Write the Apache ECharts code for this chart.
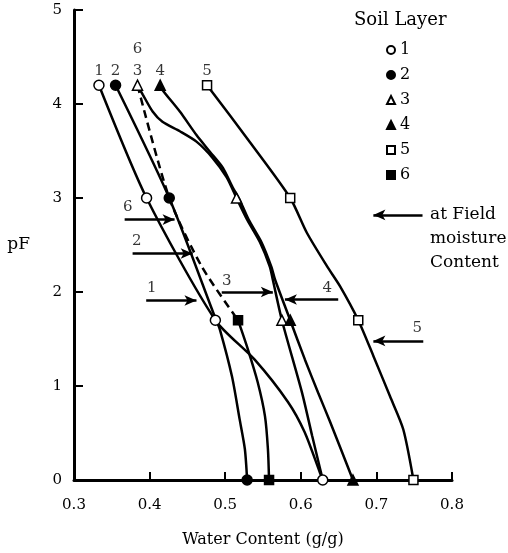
<!DOCTYPE html>
<html><head><meta charset="utf-8">
<script src="https://cdn.jsdelivr.net/npm/echarts@6/dist/echarts.min.js"></script>
<style>html,body{margin:0;padding:0;background:#fff}#c{width:508px;height:553px}</style>
</head><body><div id="c"></div>
<script>
const marks1 = [[0.333,4.2],[0.396,3.0],[0.487,1.7],[0.629,0]];
const marks2 = [[0.355,4.2],[0.426,3.0],[0.529,0]];
const marks3 = [[0.384,4.2],[0.515,3.0],[0.575,1.7]];
const marks4 = [[0.414,4.2],[0.586,1.7],[0.669,0]];
const marks5 = [[0.476,4.2],[0.586,3.0],[0.676,1.7],[0.749,0]];
const marks6 = [[0.517,1.7],[0.558,0]];

// Curve traces
const curve1 = [[0.333,4.2],[0.396,3.0],[0.487,1.7],[0.539,1.28],[0.583,0.83],[0.605,0.51],[0.625,0.085],[0.629,0]];
const curve2 = [[0.355,4.2],[0.426,3.0],[0.488,1.7],[0.493,1.6],[0.509,1.10],[0.519,0.65],[0.526,0.33],[0.529,0]];
const curve3 = [[0.384,4.2],[0.391,4.10],[0.404,3.92],[0.417,3.81],[0.440,3.71],[0.462,3.60],[0.483,3.43],[0.502,3.22],[0.515,3.0],[0.529,2.77],[0.546,2.53],[0.559,2.27],[0.563,2.13],[0.575,1.7],[0.6016,0.93],[0.615,0.47],[0.6255,0.12],[0.629,0]];
const curve4 = [[0.414,4.2],[0.417,4.15],[0.440,3.92],[0.462,3.67],[0.480,3.49],[0.497,3.32],[0.510,3.11],[0.518,3.0],[0.531,2.77],[0.548,2.53],[0.561,2.27],[0.566,2.13],[0.586,1.7],[0.6055,1.28],[0.6228,0.93],[0.6387,0.62],[0.669,0]];
const curve5 = [[0.476,4.2],[0.533,3.59],[0.586,3.0],[0.608,2.63],[0.635,2.27],[0.652,2.06],[0.676,1.7],[0.696,1.32],[0.718,0.89],[0.7355,0.54],[0.749,0]];
const curve6Dashed = [[0.384,4.2],[0.426,3.0],[0.469,2.27],[0.517,1.7]];
const curve6Solid = [[0.517,1.7],[0.530,1.39],[0.543,1.04],[0.5526,0.68],[0.5565,0.33],[0.558,0]];

// Field-moisture arrows: [fromX, toX, pF, label, labelX, labelPF]
const arrows = [
  [0.367,0.433,2.77,'6',0.371,2.90],
  [0.3775,0.457,2.41,'2',0.383,2.54],
  [0.3955,0.462,1.91,'1',0.403,2.04],
  [0.4954,0.563,2.00,'3',0.502,2.12],
  [0.6495,0.579,1.92,'4',0.635,2.04],
  [0.762,0.696,1.48,'5',0.754,1.62],
  [0.761,0.696,2.82,'',0,0]
];
// layer numbers above top markers: [x, pF, text]
const topLabels = [[0.333,4.35,'1'],[0.355,4.35,'2'],[0.384,4.35,'3'],[0.414,4.35,'4'],[0.476,4.35,'5'],[0.384,4.58,'6']];
const layerNames = ['1','2','3','4','5','6'];
const xTicks = [0.3,0.4,0.5,0.6,0.7,0.8];

const FONT = 'DejaVu Serif';
const LW = 2.5;
function lineSeries(data, dashed){
  return {type:'line', data:data, smooth:0.25, symbol:'none', silent:true, z:2,
    lineStyle:{color:'#000', width:LW, type: dashed ? [8,5] : 'solid'}};
}
function markSeries(name, data, symbol, filled, size){
  return {type:'scatter', name:name, data:data, symbol:symbol, symbolSize:size, z:5, silent:true,
    itemStyle:{color: filled ? '#000' : '#fff', borderColor:'#000', borderWidth:1.5, opacity:1}};
}
const series = [
  lineSeries(curve1), lineSeries(curve2), lineSeries(curve3), lineSeries(curve4), lineSeries(curve5),
  lineSeries(curve6Dashed, true), lineSeries(curve6Solid),
  markSeries('1', marks1, 'circle', false, 10),
  markSeries('2', marks2, 'circle', true, 10),
  markSeries('3', marks3, 'triangle', false, 10),
  markSeries('4', marks4, 'triangle', true, 10),
  markSeries('5', marks5, 'rect', false, 9),
  markSeries('6', marks6, 'rect', true, 9),
  {type:'scatter', name:'notes', silent:true, z:6,
   data: topLabels.concat(arrows.filter(a=>a[3]).map(a=>[a[4],a[5],a[3]])),
   symbolSize:1, itemStyle:{color:'rgba(0,0,0,0)'},
   label:{show:true, position:'inside', formatter:p=>p.data[2], color:'#000', fontFamily:FONT, fontSize:15},
   markLine:{silent:true, symbol:['none','arrow'], symbolSize:[8,12], label:{show:false},
     lineStyle:{color:'#000', width:2.5, type:'solid'},
     data: arrows.map(a=>[{coord:[a[0],a[2]]},{coord:[a[1],a[2]]}])}
  }
];

const chart = echarts.init(document.getElementById('c'));
chart.setOption({
  animation:false,
  backgroundColor:'#fff',
  title:{text:'Soil Layer', left:349, top:6, textStyle:{fontFamily:FONT, fontSize:18, fontWeight:'normal', color:'#000'}},
  legend:{data:layerNames, orient:'vertical', left:381, top:37, itemWidth:8, itemHeight:8, itemGap:9,
    textStyle:{fontFamily:FONT, fontSize:16, color:'#000'}, selectedMode:false},
  grid:{left:74, right:56, top:10, bottom:72},
  xAxis:{type:'value', min:xTicks[0], max:xTicks[xTicks.length-1], interval:0.1,
    name:'Water Content (g/g)', nameLocation:'middle', nameGap:52,
    nameTextStyle:{fontFamily:FONT, fontSize:16, color:'#000'},
    axisLine:{lineStyle:{color:'#000', width:3}},
    axisTick:{inside:true, length:8, lineStyle:{color:'#000', width:2}},
    axisLabel:{margin:18, fontFamily:FONT, fontSize:15, color:'#000', formatter:v=>v.toFixed(1)},
    splitLine:{show:false}},
  yAxis:{type:'value', min:0, max:5, interval:1,
    name:'pF', nameLocation:'middle', nameGap:44, nameRotate:0,
    nameTextStyle:{fontFamily:FONT, fontSize:17, color:'#000'},
    axisLine:{show:true, lineStyle:{color:'#000', width:3}},
    axisTick:{show:true, inside:true, length:9, lineStyle:{color:'#000', width:2}},
    axisLabel:{margin:12, fontFamily:FONT, fontSize:15, color:'#000'},
    splitLine:{show:false}},
  graphic:[{type:'text', left:430, top:203, style:{text:'at Field\nmoisture\nContent', font:'17px "DejaVu Serif"', lineHeight:24, fill:'#000'}}],
  series:series
});
</script></body></html>
